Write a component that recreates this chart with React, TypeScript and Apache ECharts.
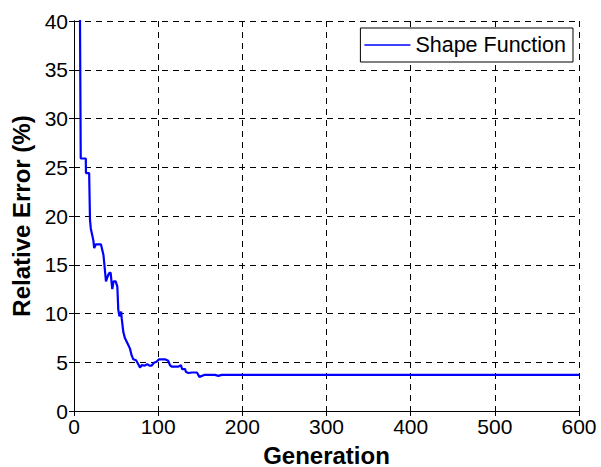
import React, { useEffect, useRef } from "react";
import * as echarts from "echarts";

const generations = [7, 8, 14, 14.2, 18, 19, 20, 23, 24, 26, 32, 35, 38, 40, 41.5, 43.5, 45, 45.5, 47, 49.5, 51.5, 52.6, 54, 56, 56.7, 58.6, 60.6, 63.8, 66.5, 68.5, 70.5, 73.7, 76.4, 78.4, 80.4, 84, 87, 89.5, 92, 95, 98, 101, 108, 112, 114, 116, 124, 127, 128.5, 132, 133, 136, 140, 146, 149, 152, 154.5, 167.5, 171.5, 175.5, 600];
const errors = [42, 25.9, 25.9, 24.4, 24.4, 19.6, 18.7, 17.5, 16.7, 17.1, 17.1, 16.0, 13.3, 13.8, 14.1, 14.2, 12.9, 12.5, 13.3, 13.3, 12.75, 10.4, 9.7, 10.2, 9.5, 8.1, 7.45, 6.9, 6.4, 5.7, 5.3, 5.2, 4.8, 4.45, 4.7, 4.65, 4.8, 4.65, 4.65, 4.95, 5.05, 5.3, 5.3, 5.15, 4.7, 4.55, 4.55, 4.7, 4.3, 4.3, 4.0, 3.9, 3.95, 3.95, 3.5, 3.6, 3.7, 3.7, 3.6, 3.7, 3.7];
const seriesName = "Shape Function";
const xTitle = "Generation";
const yTitle = "Relative Error (%)";

const FONT = '"Liberation Sans", Arial, Helvetica, sans-serif';

export default function App() {
  const ref = useRef<HTMLDivElement>(null);
  useEffect(() => {
    if (!ref.current) return;
    const chart = echarts.init(ref.current, null, { renderer: "svg" });
    const gridLine = { show: true, lineStyle: { color: "#000", type: [6, 5], width: 1 } };
    const axisLine = { show: true, lineStyle: { color: "#000", width: 1 } };
    const tick = { show: true, inside: true, length: 5, lineStyle: { color: "#000" } };
    chart.setOption({
      animation: false,
      backgroundColor: "#fff",
      textStyle: { fontFamily: FONT },
      grid: { left: 74, right: 22, top: 21, bottom: 56, containLabel: false, outerBoundsMode: "none" },
      legend: {
        data: [{ name: seriesName, icon: "rect" }],
        right: 28,
        top: 28,
        orient: "vertical",
        backgroundColor: "#fff",
        borderColor: "#000",
        borderWidth: 1,
        borderRadius: 0,
        padding: [6, 7, 6, 4],
        itemWidth: 46,
        itemHeight: 1.6,
        textStyle: { fontSize: 21.5, color: "#000", fontFamily: FONT },
      },
      xAxis: [
        {
          type: "value",
          min: 0,
          max: 600,
          interval: 100,
          position: "bottom",
          name: xTitle,
          nameLocation: "middle",
          nameGap: 32,
          nameTextStyle: { fontSize: 24, fontWeight: "bold", color: "#000", fontFamily: FONT },
          axisLine,
          axisTick: tick,
          axisLabel: { fontSize: 21, color: "#000", margin: 5, fontFamily: FONT },
          splitLine: gridLine,
        },
        {
          type: "value",
          min: 0,
          max: 600,
          interval: 100,
          position: "top",
          axisLine,
          axisTick: tick,
          axisLabel: { show: false },
          splitLine: { show: false },
        },
      ],
      yAxis: [
        {
          type: "value",
          min: 0,
          max: 40,
          interval: 5,
          position: "left",
          name: yTitle,
          nameLocation: "middle",
          nameGap: 37,
          nameTextStyle: { fontSize: 24, fontWeight: "bold", color: "#000", fontFamily: FONT },
          axisLine,
          axisTick: tick,
          axisLabel: { fontSize: 21, color: "#000", margin: 6, fontFamily: FONT },
          splitLine: gridLine,
        },
        {
          type: "value",
          min: 0,
          max: 40,
          interval: 5,
          position: "right",
          axisLine,
          axisTick: tick,
          axisLabel: { show: false },
          splitLine: { show: false },
        },
      ],
      series: [
        {
          name: seriesName,
          type: "line",
          xAxisIndex: 0,
          yAxisIndex: 0,
          data: generations.map((g, i) => [g, errors[i]]),
          symbol: "none",
          showSymbol: false,
          clip: true,
          lineStyle: { color: "#0000ff", width: 2.2 },
          itemStyle: { color: "#0000ff" },
        },
      ],
    });
    return () => chart.dispose();
  }, []);
  return (
    <div
      ref={ref}
      style={{ position: "fixed", left: 0, top: 0, width: 601, height: 467, background: "#fff" }}
    />
  );
}
